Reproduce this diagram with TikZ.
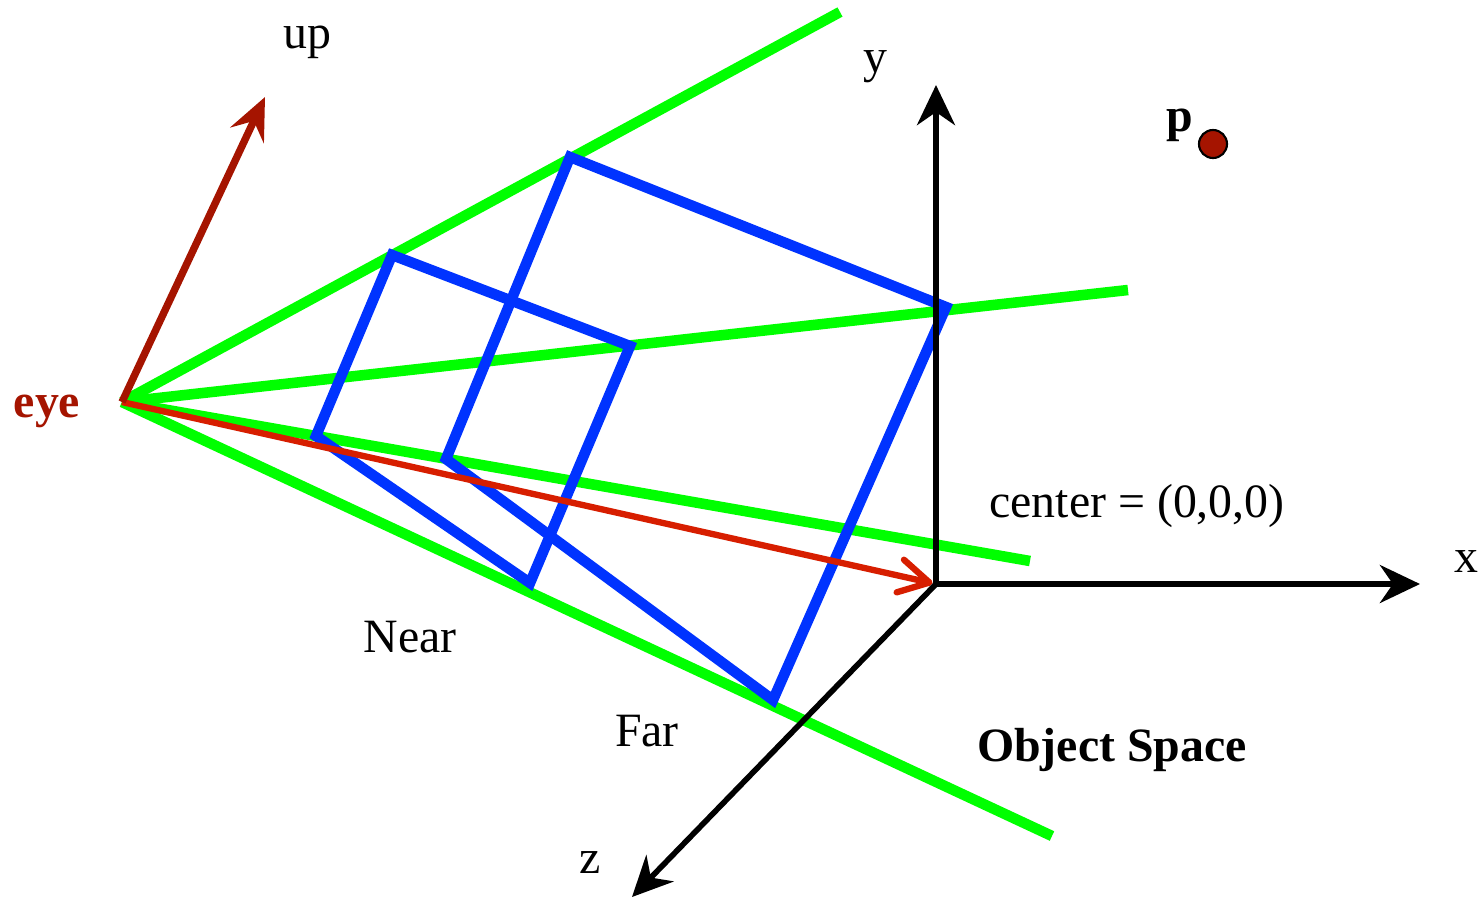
\documentclass[tikz,border=0pt]{standalone}
\usepackage{fontspec}
\setmainfont{Liberation Serif}
\usetikzlibrary{arrows.meta}
\definecolor{rayGreen}{RGB}{0,255,0}
\definecolor{planeBlue}{RGB}{0,51,255}
\definecolor{eyeRed}{RGB}{165,20,0}
\definecolor{viewRed}{RGB}{215,30,0}

\begin{document}
\begin{tikzpicture}[x=0.01cm, y=-0.01cm, font=\fontsize{13.6}{16}\selectfont,
  ray/.style={rayGreen, line width=3pt},
  plane/.style={planeBlue, line width=3pt, line join=miter},
  axis/.style={line width=1.6pt, -{Stealth[length=11.4pt, width=10.8pt, inset=3.7pt]}}]
  \useasboundingbox (0,0) rectangle (1484,899);

  % Points
  \coordinate (eye) at (122,402);
  \coordinate (orig) at (936,584);
  \coordinate (ytip) at (936,85);
  \coordinate (xtip) at (1420,584);
  \coordinate (ztip) at (632,897);
  \coordinate (uptip) at (265,97);
  \coordinate (r1) at (840,12);
  \coordinate (r2) at (1128,290);
  \coordinate (r3) at (1030,561);
  \coordinate (r4) at (1052,836);
  \coordinate (n1) at (392,255);
  \coordinate (n2) at (630,346);
  \coordinate (n3) at (530,583);
  \coordinate (n4) at (316,436);
  \coordinate (f1) at (570,157);
  \coordinate (f2) at (946,307);
  \coordinate (f3) at (773,700);
  \coordinate (f4) at (446,459);

  % Frustum rays
  \draw[ray] (eye) -- (r1);
  \draw[ray] (eye) -- (r2);
  \draw[ray] (eye) -- (r3);
  \draw[ray] (eye) -- (r4);

  % Near and far planes
  \draw[plane] (n1) -- (n2) -- (n3) -- (n4) -- cycle;
  \draw[plane] (f1) -- (f2) -- (f3) -- (f4) -- cycle;

  % View direction and up vector
  \draw[viewRed, line width=1.8pt, shorten >=1pt,
    -{Straight Barb[length=8.5pt, width=9.5pt, round]}] (eye) -- (orig);
  \draw[eyeRed, line width=2.1pt,
    -{Stealth[length=12pt, width=10.5pt, inset=4.5pt]}] (eye) -- (uptip);

  % Object space axes
  \draw[axis] (orig) -- (ytip);
  \draw[axis] (orig) -- (xtip);
  \draw[axis] (orig) -- (ztip);

  % Labels
  \node (uplbl) at (307,42) {up};
  \node (ylbl) at (875,67) {y};
  \node (xlbl) at (1466,562) {x};
  \node (zlbl) at (590,863) {z};
  \node[text=eyeRed] (eyelbl) at (47,411) {\textbf{eye}};
  \node (ctrlbl) at (1137,506) {center = (0,0,0)};
  \node (nearlbl) at (410,637) {Near};
  \node (farlbl) at (647,731) {Far};
  \node (objlbl) at (1112,750) {\textbf{Object Space}};
  \node (plbl) at (1180,125) {\textbf{p}};
  \node[circle, draw, line width=0.6pt, fill=eyeRed, inner sep=0pt,
    minimum size=0.28cm] (p) at (1213,144) {};
\end{tikzpicture}
\end{document}
